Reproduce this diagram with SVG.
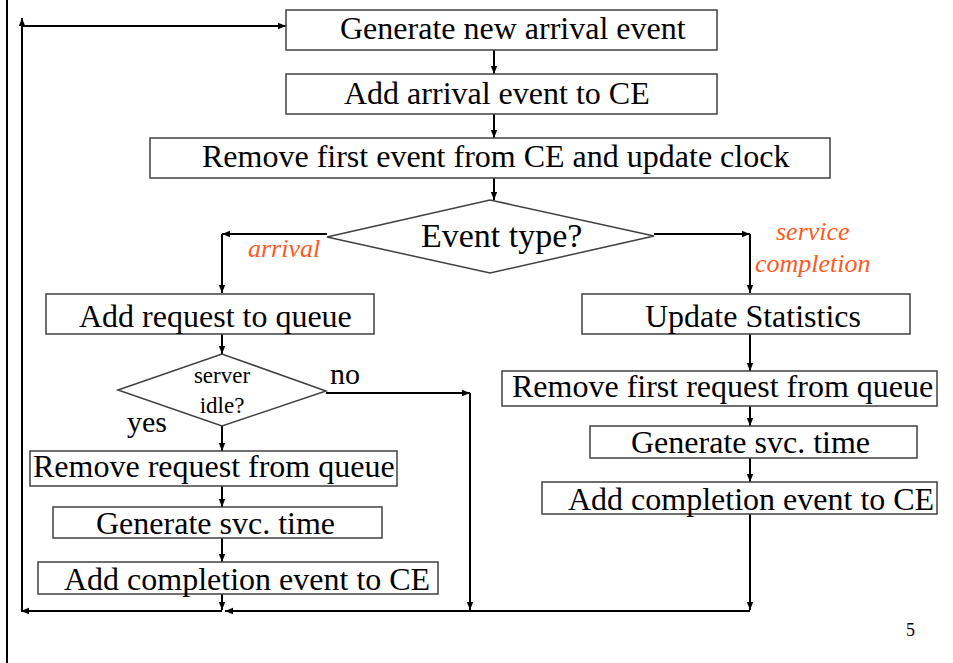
<svg xmlns="http://www.w3.org/2000/svg" width="953" height="663" viewBox="0 0 953 663">
<defs>
<marker id="ah" viewBox="0 0 10 10" refX="10" refY="5" markerWidth="8" markerHeight="8" markerUnits="userSpaceOnUse" orient="auto">
<path d="M0,1 L10,5 L0,9 Z" fill="#000"/>
</marker>
</defs>
<style>
.box{fill:#fff;stroke:#404040;stroke-width:1.5}
.t{font-family:"Liberation Serif","Times New Roman",serif;font-size:32px;fill:#000}
.s{font-family:"Liberation Serif","Times New Roman",serif;font-size:23px;fill:#000}
.lbl{font-family:"Liberation Serif","Times New Roman",serif;font-size:26px;font-style:italic;fill:#ff5a1e}
.c{fill:none;stroke:#000;stroke-width:2}
.a{fill:none;stroke:#000;stroke-width:2;marker-end:url(#ah)}
</style>
<rect width="953" height="663" fill="#fff"/>
<line x1="7" y1="0" x2="7" y2="663" stroke="#000" stroke-width="2"/>
<g id="connectors">
<line class="a" x1="494" y1="50" x2="494" y2="74"/>
<line class="a" x1="494" y1="114" x2="494" y2="138"/>
<line class="a" x1="494" y1="178" x2="494" y2="200"/>
<line class="a" x1="327" y1="234" x2="222" y2="234"/>
<line class="a" x1="222" y1="234" x2="222" y2="293"/>
<line class="a" x1="654" y1="234" x2="750" y2="234"/>
<line class="a" x1="750" y1="234" x2="750" y2="293"/>
<line class="a" x1="222" y1="334" x2="222" y2="354"/>
<line class="a" x1="326" y1="393" x2="470" y2="393"/>
<line class="a" x1="470" y1="393" x2="470" y2="610"/>
<line class="a" x1="222" y1="426" x2="222" y2="451"/>
<line class="a" x1="222" y1="486" x2="222" y2="507"/>
<line class="a" x1="222" y1="538" x2="222" y2="562"/>
<line class="a" x1="222" y1="594" x2="222" y2="610"/>
<line class="a" x1="750" y1="334" x2="750" y2="371"/>
<line class="a" x1="750" y1="406" x2="750" y2="426"/>
<line class="a" x1="750" y1="458" x2="750" y2="482"/>
<line class="a" x1="750" y1="514" x2="750" y2="610"/>
<line class="a" x1="750" y1="611" x2="225" y2="611"/>
<line class="a" x1="222" y1="611" x2="21" y2="611"/>
<line class="a" x1="22" y1="611" x2="22" y2="18"/>
<line class="a" x1="22" y1="26" x2="286" y2="26"/>
</g>
<g id="n1"><rect class="box" x="286" y="10" width="431" height="40"/><text class="t" x="340" y="39">Generate new arrival event</text></g>
<g id="n2"><rect class="box" x="286" y="74" width="431" height="40"/><text class="t" x="344" y="104">Add arrival event to CE</text></g>
<g id="n3"><rect class="box" x="150" y="138" width="680" height="40"/><text class="t" x="202" y="167">Remove first event from CE and update clock</text></g>
<g id="n4"><polygon class="box" points="327,237 490,200 654,236 490,273"/><text class="t" x="421" y="247" style="font-size:34px">Event type?</text></g>
<g id="lab-arrival"><text class="lbl" x="248" y="257">arrival</text></g>
<g id="lab-service"><text class="lbl" x="776" y="240">service</text><text class="lbl" x="755" y="272">completion</text></g>
<g id="n5"><rect class="box" x="46" y="294" width="328" height="40"/><text class="t" x="79" y="327">Add request to queue</text></g>
<g id="n6"><rect class="box" x="582" y="294" width="328" height="40"/><text class="t" x="645" y="327">Update Statistics</text></g>
<g id="n7"><polygon class="box" points="118,390 222,354 326,391 222,426"/><text class="s" x="222" y="383" text-anchor="middle">server</text><text class="s" x="222" y="413" text-anchor="middle">idle?</text></g>
<g id="lab-no"><text class="t" x="330" y="384" style="font-size:30px">no</text></g>
<g id="lab-yes"><text class="t" x="127" y="432" style="font-size:30px">yes</text></g>
<g id="n8"><rect class="box" x="30" y="451" width="367" height="35"/><text class="t" x="33" y="477">Remove request from queue</text></g>
<g id="n9"><rect class="box" x="53" y="507" width="329" height="31"/><text class="t" x="96" y="534">Generate svc. time</text></g>
<g id="n10"><rect class="box" x="38" y="562" width="400" height="32"/><text class="t" x="64" y="590">Add completion event to CE</text></g>
<g id="n11"><rect class="box" x="502" y="371" width="435" height="35"/><text class="t" x="512" y="397">Remove first request from queue</text></g>
<g id="n12"><rect class="box" x="590" y="426" width="327" height="32"/><text class="t" x="631" y="453">Generate svc. time</text></g>
<g id="n13"><rect class="box" x="542" y="482" width="395" height="32"/><text class="t" x="568" y="510">Add completion event to CE</text></g>
<text x="906" y="636" style="font-family:'Liberation Serif','Times New Roman',serif;font-size:18px">5</text>
</svg>
